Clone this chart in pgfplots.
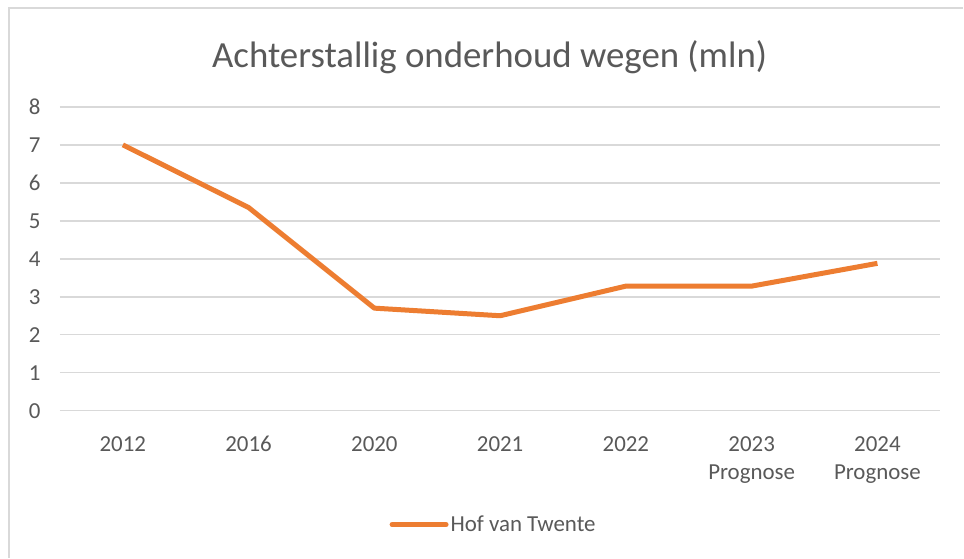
\documentclass[border=0pt]{standalone}
\usepackage{pgfplots}
\pgfplotsset{compat=1.18}
\usepackage{fontspec}
\setmainfont{Carlito}
\definecolor{txt}{HTML}{595959}
\definecolor{grd}{HTML}{D9D9D9}
\definecolor{org}{HTML}{ED7D31}
\begin{document}
\begin{tikzpicture}[x=1bp,y=1bp]
\fill[white] (0,0) rectangle (964,558);
\draw[grd, line width=1.5bp] (9,0) -- (9,550) -- (964,550);
\node[txt, font=\fontsize{37}{42}\selectfont] at (490,501) {Achterstallig onderhoud wegen (mln)};
\begin{axis}[
  at={(60bp,147bp)}, anchor=south west,
  scale only axis, width=881bp, height=304bp,
  xmin=-0.5, xmax=6.5, ymin=0, ymax=8,
  axis line style={draw=none},
  ytick={0,1,...,8},
  xtick={0,1,...,6},
  xticklabels={{\strut 2012\\\strut},{\strut 2016\\\strut},{\strut 2020\\\strut},{\strut 2021\\\strut},{\strut 2022\\\strut},{\strut 2023\\\strut Prognose},{\strut 2024\\\strut Prognose}},
  xticklabel style={align=center, font=\fontsize{23}{28}\selectfont, text=txt, anchor=north, yshift=-18bp},
  yticklabel style={font=\fontsize{23}{25}\selectfont, text=txt, xshift=-16bp},
  /pgf/number format/assume math mode=true,
  major tick length=0pt,
  ymajorgrids, grid style={grd, line width=1.5bp},
  clip=false,
  legend style={at={(0.4926,-0.375)}, anchor=center, draw=none, fill=none,
    font=\fontsize{23}{25}\selectfont, text=txt},
  legend image code/.code={\draw[#1, line cap=round] (0bp,0bp) -- (54bp,0bp);},
]
\addplot[org, line width=5bp, line join=round] coordinates {
(0,7.0) (1,5.35) (2,2.7) (3,2.5) (4,3.28) (5,3.28) (6,3.88)
};
\addlegendentry{Hof van Twente}
\end{axis}
\end{tikzpicture}
\end{document}
